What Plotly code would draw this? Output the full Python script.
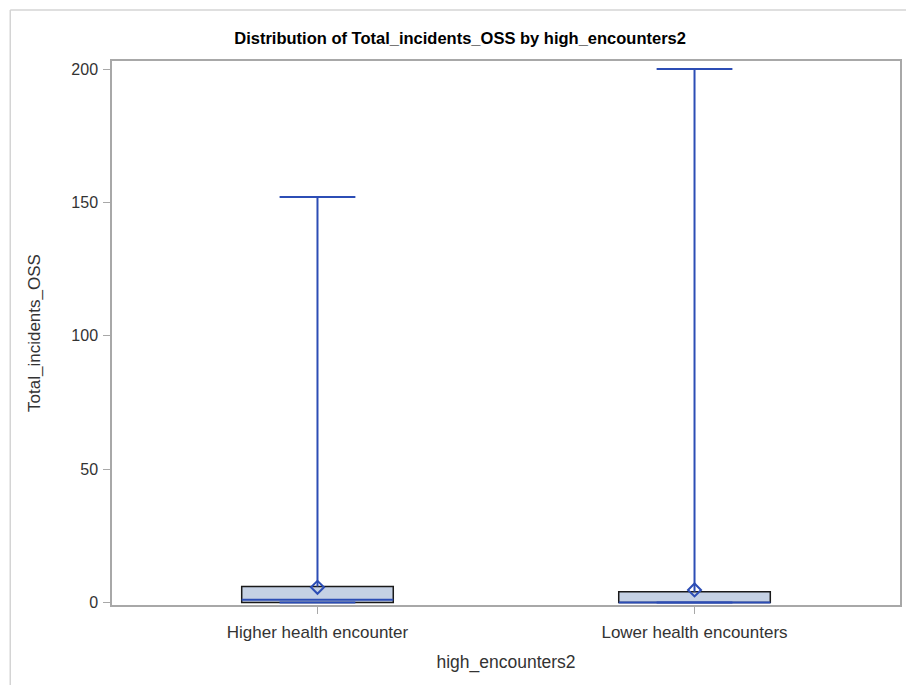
import plotly.graph_objects as go

# Summary statistics of Total_incidents_OSS for each group
groups = ["Higher health encounter", "Lower health encounters"]
q1 = [0, 0]
median = [1, 0]
q3 = [6, 4]
mean = [5.7, 4.7]
whisker_low = [0, 0]
whisker_high = [152, 200]

positions = [0, 1]
box_width = 0.402
cap_half = 0.1005

fill_color = "#C5D1E4"
edge_color = "#1A1A1A"
line_blue = "#2C4DB5"

fig = go.Figure()

# Box bodies (Q1 to Q3)
fig.add_trace(go.Bar(
    x=positions,
    base=q1,
    y=[b - a for a, b in zip(q1, q3)],
    width=box_width,
    marker=dict(color=fill_color, line=dict(color=edge_color, width=1.5)),
    hoverinfo="skip",
))

# Whisker stems and caps
wx, wy = [], []
for p, lo, hi, a, b in zip(positions, whisker_low, whisker_high, q1, q3):
    wx += [p, p, None, p, p, None]
    wy += [b, hi, None, a, lo, None]
    wx += [p - cap_half, p + cap_half, None, p - cap_half, p + cap_half, None]
    wy += [hi, hi, None, lo, lo, None]
fig.add_trace(go.Scatter(x=wx, y=wy, mode="lines",
                         line=dict(color=line_blue, width=2), hoverinfo="skip"))

# Median lines
mx, my = [], []
for p, m in zip(positions, median):
    mx += [p - box_width / 2, p + box_width / 2, None]
    my += [m, m, None]
fig.add_trace(go.Scatter(x=mx, y=my, mode="lines",
                         line=dict(color=line_blue, width=2), hoverinfo="skip"))

# Means
fig.add_trace(go.Scatter(
    x=positions, y=mean, mode="markers",
    marker=dict(symbol="diamond-open", size=10, color=line_blue,
                line=dict(color=line_blue, width=2)),
))

axis_color = "#A8A8A8"
font_family = "Liberation Sans, Arial, sans-serif"

fig.update_layout(
    width=906, height=685,
    margin=dict(l=112, r=4, t=61, b=80),
    paper_bgcolor="white", plot_bgcolor="white",
    showlegend=False,
    font=dict(family=font_family, color="#333333", size=16),
    title=dict(
        text="<b>Distribution of Total_incidents_OSS by high_encounters2</b>",
        x=(461 - 112) / 790, xref="paper", xanchor="center",
        y=1 - 38 / 685, yref="container", yanchor="middle",
        font=dict(family=font_family, size=16.5, color="#000000"),
    ),
    xaxis=dict(
        range=[-0.545, 1.545],
        tickmode="array", tickvals=positions, ticktext=groups,
        showgrid=False, zeroline=False,
        showline=True, linecolor=axis_color, linewidth=1.5, mirror=True,
        ticks="outside", ticklen=7, tickcolor=axis_color,
        ticklabelstandoff=4,
        tickfont=dict(size=17, color="#333333"),
        title=dict(text="high_encounters2", font=dict(size=17.5, color="#333333"), standoff=15),
    ),
    yaxis=dict(
        range=[-0.94, 203],
        tickvals=[0, 50, 100, 150, 200],
        showgrid=False, zeroline=False,
        showline=True, linecolor=axis_color, linewidth=1.5, mirror=True,
        ticks="outside", ticklen=7, tickcolor=axis_color,
        ticklabelstandoff=2,
        tickfont=dict(size=16, color="#333333"),
        title=dict(text="Total_incidents_OSS", font=dict(size=17, color="#333333"), standoff=26),
    ),
    shapes=[
        dict(type="line", xref="paper", yref="paper",
             x0=-102 / 790, x1=-102 / 790, y0=-0.2, y1=1 + 51 / 544,
             line=dict(color="#D4D4D4", width=1.5)),
        dict(type="line", xref="paper", yref="paper",
             x0=-102 / 790, x1=1.2, y0=1 + 51 / 544, y1=1 + 51 / 544,
             line=dict(color="#D4D4D4", width=1.5)),
    ],
)

fig.write_html("out.html")
